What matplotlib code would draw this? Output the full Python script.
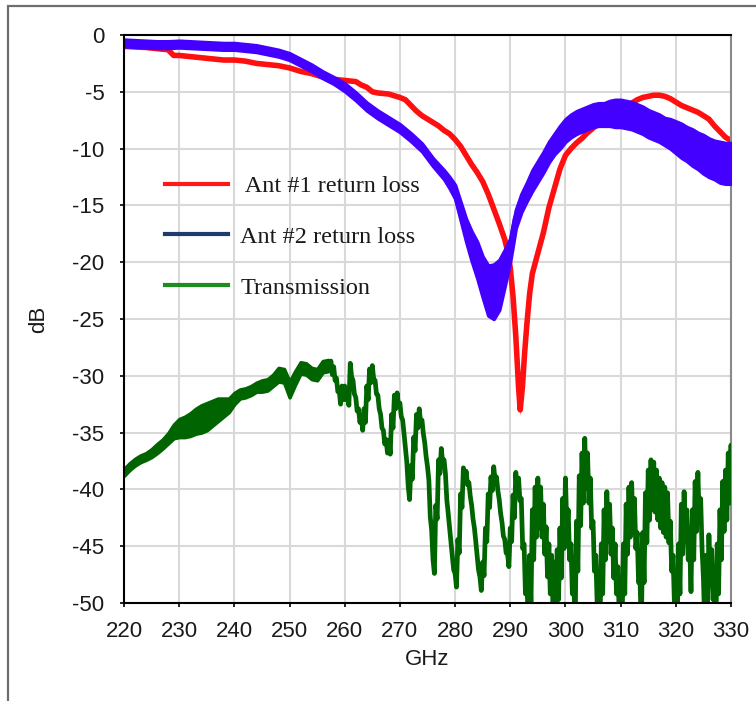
import numpy as np
import matplotlib
matplotlib.use("Agg")
import matplotlib.pyplot as plt
from matplotlib.lines import Line2D
from matplotlib.patches import Rectangle

plt.rcParams["axes.unicode_minus"] = False
plt.rcParams["font.family"] = ["Liberation Sans", "DejaVu Sans"]

# ---------------- data ----------------
x_ticks = [220, 230, 240, 250, 260, 270, 280, 290, 300, 310, 320, 330]
y_ticks = [0, -5, -10, -15, -20, -25, -30, -35, -40, -45, -50]

# Antenna 1 return loss (dB)
ant1_freq = [220, 222, 224, 226, 228, 229, 230, 232, 234, 236,
             238, 240, 242, 244, 246, 248, 250, 252, 254, 256,
             258, 260, 262, 263, 264, 265, 266, 268, 270, 271,
             272, 273, 274, 275, 276, 277, 278, 279, 280, 281,
             282, 283, 284, 285, 286, 287, 288, 289, 289.5, 290,
             290.5, 291, 291.5, 291.8, 292.2, 292.6, 293, 293.5, 294, 295,
             296, 297, 298, 299, 300, 301, 302, 303, 304, 305,
             306, 307, 308, 309, 310, 311, 312, 313, 314, 315,
             316, 317, 318, 319, 320, 321, 322, 323, 324, 325,
             326, 327, 328, 329, 330]
ant1_db = [-1.0, -1.05, -1.1, -1.2, -1.3, -1.8, -1.8, -1.9, -2.0, -2.1,
           -2.2, -2.2, -2.3, -2.5, -2.6, -2.7, -2.9, -3.2, -3.4, -3.7,
           -3.9, -4.0, -4.1, -4.4, -4.6, -5.0, -5.1, -5.2, -5.5, -5.7,
           -6.2, -6.7, -7.1, -7.4, -7.7, -8.0, -8.4, -8.7, -9.2, -9.8,
           -10.6, -11.4, -12.1, -12.9, -14.0, -15.3, -16.6, -18.0, -19.0, -20.5,
           -23.0, -26.5, -31.0, -33.0, -31.0, -28.0, -25.5, -22.8, -21.0, -19.2,
           -17.4, -15.2, -13.5, -11.8, -10.6, -10.0, -9.5, -9.1, -8.6, -8.2,
           -7.8, -7.5, -7.1, -6.8, -6.6, -6.3, -6.0, -5.7, -5.5, -5.4,
           -5.3, -5.3, -5.4, -5.6, -5.9, -6.2, -6.4, -6.6, -6.8, -7.1,
           -7.4, -8.0, -8.5, -9.0, -9.3]
ant1_spread = [0.15] * 48 + [0.5] * 11 + [0.15] * 36

# Antenna 2 return loss (dB)
ant2_freq = [220, 222, 224, 226, 228, 230, 232, 234, 236, 238,
             240, 242, 244, 246, 248, 250, 252, 254, 256, 258,
             260, 262, 264, 266, 268, 270, 272, 274, 276, 278,
             279, 280, 281, 282, 283, 284, 285, 286, 287, 288,
             289, 290, 291, 292, 293, 294, 295, 296, 297, 298,
             299, 300, 301, 302, 303, 304, 305, 306, 307, 308,
             309, 310, 311, 312, 313, 314, 315, 316, 317, 318,
             319, 320, 321, 322, 323, 324, 325, 326, 327, 328,
             329, 330]
ant2_db = [-0.7, -0.75, -0.8, -0.85, -0.85, -0.8, -0.85, -0.9, -0.95, -1.0,
           -1.0, -1.1, -1.2, -1.4, -1.6, -1.9, -2.4, -2.9, -3.5, -4.0,
           -4.6, -5.4, -6.3, -7.0, -7.6, -8.2, -9.0, -9.9, -11.2, -12.3,
           -13.0, -13.8, -15.5, -17.2, -18.6, -19.8, -21.3, -22.5, -22.6, -22.0,
           -20.5, -18.9, -16.2, -14.8, -13.8, -12.8, -12.0, -11.2, -10.3, -9.6,
           -9.0, -8.4, -8.0, -7.7, -7.5, -7.3, -7.1, -7.0, -7.0, -6.9,
           -6.9, -6.9, -7.0, -7.1, -7.3, -7.5, -7.8, -8.0, -8.2, -8.5,
           -8.7, -9.0, -9.3, -9.6, -9.9, -10.2, -10.5, -10.8, -11.0, -11.2,
           -11.3, -11.3]
ant2_spread = [0.3, 0.3, 0.3, 0.3, 0.3, 0.3, 0.3, 0.3, 0.3, 0.3,
               0.3, 0.3, 0.3, 0.3, 0.3, 0.3, 0.3, 0.3, 0.3, 0.3,
               0.35, 0.35, 0.35, 0.35, 0.35, 0.35, 0.35, 0.35, 0.35, 0.4,
               0.5, 0.6, 0.8, 1.0, 1.3, 1.6, 1.8, 2.2, 2.4, 2.2,
               1.6, 1.0, 0.8, 0.8, 0.8, 0.9, 0.9, 0.9, 0.9, 0.9,
               1.0, 1.0, 1.0, 1.0, 1.0, 1.0, 1.0, 1.0, 1.0, 1.1,
               1.2, 1.2, 1.2, 1.2, 1.2, 1.2, 1.2, 1.2, 1.2, 1.2,
               1.3, 1.4, 1.5, 1.5, 1.6, 1.6, 1.7, 1.7, 1.7, 1.8,
               1.8, 1.8]

# Transmission (dB): 1 GHz steps to 257 GHz, then 0.5 GHz steps
trans_freq_a = list(range(220, 258))
trans_db_a = [-38.5, -38.0, -37.6, -37.3, -37.1, -36.8, -36.4, -36.0, -35.5, -34.9,
              -34.6, -34.5, -34.3, -34.0, -33.8, -33.6, -33.3, -33.0, -32.8, -32.6,
              -32.0, -31.6, -31.5, -31.3, -31.0, -30.9, -30.8, -30.4, -29.9, -30.0,
              -31.2, -30.2, -29.3, -29.4, -29.8, -29.9, -29.2, -29.1]
trans_spread_a = [0.3, 0.3, 0.3, 0.3, 0.3, 0.35, 0.4, 0.4, 0.45, 0.6,
                  0.8, 0.9, 1.0, 1.1, 1.2, 1.2, 1.1, 1.0, 0.8, 0.6,
                  0.5, 0.4, 0.4, 0.4, 0.4, 0.5, 0.5, 0.5, 0.6, 0.6,
                  0.7, 0.6, 0.5, 0.5, 0.5, 0.5, 0.5, 0.5]

trans_freq_b = list(np.arange(257.5, 330.01, 0.5))
trans_db_b = [-29.3, -29.8, -30.8, -31.9, -31.5, -31.5, -32.0, -29.5, -31.0, -32.5,
              -33.5, -34.2, -33.5, -31.5, -30.0, -29.7, -31.0, -32.3, -34.0, -35.4,
              -36.2, -36.3, -34.0, -32.3, -32.1, -33.0, -34.5, -37.0, -40.3, -38.5,
              -36.0, -34.0, -33.5, -34.5, -36.5, -38.6, -43.0, -46.8, -42.0, -38.0,
              -37.0, -38.0, -41.5, -44.0, -46.5, -48.0, -45.0, -41.0, -38.7, -39.0,
              -40.0, -42.0, -44.0, -46.5, -48.3, -47.0, -44.0, -41.0, -39.5, -38.6,
              -39.5, -41.5, -43.5, -45.0, -46.2, -44.0, -41.5, -39.5, -40.0, -43.0,
              -47.0, -49.7, -48.0, -44.0, -42.0, -41.2, -42.0, -43.5, -45.5, -47.0,
              -48.0, -48.6, -47.5, -45.6, -43.0, -41.2, -44.0, -47.0, -50.0, -45.0,
              -41.0, -39.0, -37.7, -39.0, -41.2, -45.0, -48.0, -50.0, -47.0, -44.0,
              -42.4, -43.5, -45.6, -47.0, -49.0, -50.0, -47.0, -43.5, -42.0, -41.6,
              -43.0, -46.0, -50.0, -46.0, -42.5, -40.5, -39.6, -39.8, -40.5, -41.2,
              -41.6, -42.0, -42.5, -45.0, -48.0, -50.0, -47.0, -43.5, -42.4, -44.0,
              -46.8, -44.0, -41.5, -40.7, -43.0, -50.0, -48.0, -46.2, -47.5, -50.0,
              -47.0, -44.0, -41.5, -40.5, -39.0, -38.3]
trans_spread_b = [0.6] * 66 + [1.0] * 3 + [2.2] * 77

legend_labels = [" Ant #1 return loss", "Ant #2 return loss", "Transmission"]


def zigzag(freq, mid, spread, step):
    """Alternate between upper and lower edge of a noisy trace."""
    f = np.asarray(freq, dtype=float)
    m = np.asarray(mid, dtype=float)
    s = np.asarray(spread, dtype=float)
    xs = np.column_stack([f, f + step / 2]).ravel()
    ys = np.column_stack([m + s, m - s]).ravel()
    return xs, ys


# ---------------- figure ----------------
fig = plt.figure(figsize=(7.56, 7.01), dpi=100)
ax = fig.add_axes([124 / 756, 1 - 603 / 701, 607 / 756, 568 / 701])

# outer frame around the figure
fig.patches.append(Rectangle((8 / 756, -0.05), 1.2, (701 - 6) / 701 + 0.05,
                             transform=fig.transFigure, fill=False,
                             edgecolor="#6e6e6e", linewidth=1.6))

ax.set_xlim(220, 330)
ax.set_ylim(-50, 0)
ax.set_xticks(x_ticks)
ax.set_yticks(y_ticks)
ax.grid(True, color="#d9d9d9", linewidth=1.5, zorder=0)
ax.set_axisbelow(True)

red = "#ff1010"
blue = "#4400ff"
green = "#006400"

# Antenna 1
a1f = np.asarray(ant1_freq)
a1 = np.asarray(ant1_db)
a1s = np.asarray(ant1_spread)
ax.fill_between(a1f, a1 - a1s, a1 + a1s, color=red, linewidth=0, zorder=2)
ax.plot(a1f, a1, color=red, linewidth=4, solid_capstyle="butt", zorder=2)

# Antenna 2
a2f = np.asarray(ant2_freq)
a2 = np.asarray(ant2_db)
a2s = np.asarray(ant2_spread)
ax.fill_between(a2f, a2 - a2s, a2 + a2s, color=blue, linewidth=2.5, edgecolor=blue, zorder=3)
ax.plot(a2f, a2, color=blue, linewidth=4.5, solid_capstyle="butt", zorder=3)

# Transmission: smooth rising part as a band, ripple region as a dense trace
tfa = np.asarray(trans_freq_a, dtype=float)
tda = np.asarray(trans_db_a)
tsa = np.asarray(trans_spread_a)
ax.fill_between(tfa, tda - tsa, tda + tsa, color=green, linewidth=2.5, edgecolor=green, zorder=4)
ax.plot(tfa, tda, color=green, linewidth=3.5, zorder=4)
xb, yb = zigzag(trans_freq_b, trans_db_b, trans_spread_b, 0.5)
ax.plot(np.concatenate([[tfa[-1]], xb]), np.concatenate([[tda[-1]], yb]),
        color=green, linewidth=3.4, zorder=4)

# axes styling
for side in ("left", "bottom", "top"):
    ax.spines[side].set_color("black")
    ax.spines[side].set_linewidth(1.5)
ax.spines["right"].set_color("#8a8a8a")
ax.spines["right"].set_linewidth(1.5)
ax.spines["left"].set_zorder(6)
ax.spines["bottom"].set_zorder(6)

ax.tick_params(axis="both", direction="out", length=3, width=1.2,
               color="black", labelsize=16, labelcolor="#1a1a1a")
ax.tick_params(axis="y", pad=11)
ax.tick_params(axis="x", pad=10)
ax.set_xlabel("GHz", fontsize=16, color="#1a1a1a", labelpad=5)
ax.set_ylabel("dB", fontsize=16, color="#1a1a1a", labelpad=17)

handles = [Line2D([], [], color="#ff1a1a", linewidth=3),
           Line2D([], [], color="#1f3a6e", linewidth=3),
           Line2D([], [], color="#1e8c1e", linewidth=3)]
leg = ax.legend(handles, legend_labels, loc="upper left",
                bbox_to_anchor=(0.0675, 0.7535), frameon=False,
                borderpad=0, borderaxespad=0, handlelength=2.6,
                handletextpad=0.5, labelspacing=1.19,
                prop={"family": "Liberation Serif", "size": 17.5})
for t in leg.get_texts():
    t.set_color("#1a1a1a")

fig.savefig("out.png", dpi=100)
